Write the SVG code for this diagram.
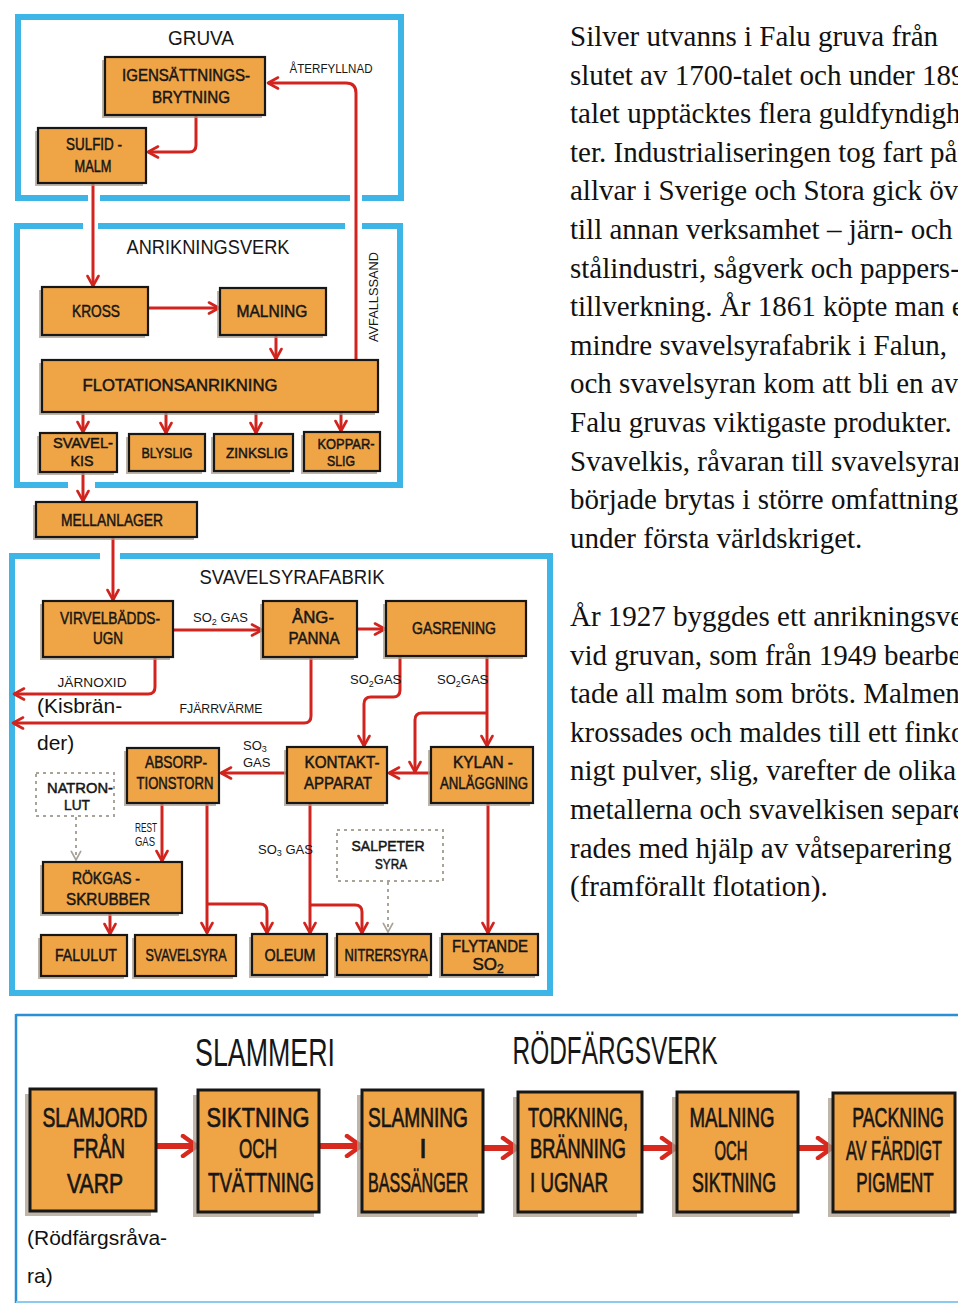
<svg xmlns="http://www.w3.org/2000/svg" width="958" height="1305" viewBox="0 0 958 1305">
<defs>
<marker id="ah" viewBox="0 0 14 14" refX="12" refY="7" markerWidth="14" markerHeight="14" markerUnits="userSpaceOnUse" orient="auto">
<path d="M2,1.5 L12,7 L2,12.5" fill="none" stroke="#D2241E" stroke-width="2.6" stroke-linecap="round" stroke-linejoin="round"/>
</marker>
<marker id="ahg" viewBox="0 0 14 14" refX="12" refY="7" markerWidth="12" markerHeight="12" markerUnits="userSpaceOnUse" orient="auto">
<path d="M2,1.5 L12,7 L2,12.5" fill="none" stroke="#A9A398" stroke-width="2" stroke-linecap="round"/>
</marker>
<marker id="ahb" viewBox="0 0 20 24" refX="17" refY="12" markerWidth="20" markerHeight="24" markerUnits="userSpaceOnUse" orient="auto">
<path d="M3,2 L17,12 L3,22" fill="none" stroke="#D8291F" stroke-width="4.5" stroke-linecap="round" stroke-linejoin="round"/>
</marker>
</defs>
<style>
.box{fill:#EFA446;stroke:#171717;stroke-width:2.2}
.bbox{fill:#EFA446;stroke:#171717;stroke-width:3}
.sh{fill:#A99C8C;opacity:.75}
.dbox{fill:none;stroke:#A9A398;stroke-width:2;stroke-dasharray:3 4}
.bt{font-family:"Liberation Sans",Arial,sans-serif;font-size:17px;fill:#161616;stroke:#161616;stroke-width:.5;text-anchor:middle}
.sm{font-size:15px}
.bg{font-size:27px;stroke-width:.7}
.st{text-anchor:start}
.ti{font-family:"Liberation Sans",Arial,sans-serif;font-size:21px;fill:#161616;text-anchor:middle}
.big{font-size:38px}
.lb{font-family:"Liberation Sans",Arial,sans-serif;font-size:13px;fill:#161616}
.frame{fill:none;stroke:#3DB6E7;stroke-width:6}
.con{fill:none;stroke:#D2241E;stroke-width:3;marker-end:url(#ah);stroke-linejoin:round}
.dash{fill:none;stroke:#A9A398;stroke-width:2;stroke-dasharray:3 4;marker-end:url(#ahg)}
.thick{fill:none;stroke:#D8291F;stroke-width:6;marker-end:url(#ahb)}
.body{font-family:"Liberation Serif","Times New Roman",serif;font-size:29px;fill:#111}
.note{font-family:"Liberation Sans",Arial,sans-serif;font-size:21px;fill:#111}
</style>
<rect width="958" height="1305" fill="#ffffff"/>

<!-- frames -->
<g id="frames">
<path class="frame" d="M15,17 H404 M18,14 V201 M401,14 V201 M15,198 H88 M100,198 H350 M362,198 H404"/>
<path class="frame" d="M14,226 H83 M98,226 H345 M362,226 H403 M17,223 V488 M400,223 V488 M14,485 H68 M95,485 H403"/>
<path class="frame" d="M9,556 H100 M120,556 H553 M12,553 V996 M550,553 V996 M9,993 H553"/>
<path d="M16,1015 H958 M16,1014 V1303" fill="none" stroke="#2A90D6" stroke-width="2.5"/>
<path d="M16,1302 H958" fill="none" stroke="#8CCBEF" stroke-width="2"/>
</g>

<!-- titles -->
<g id="titles">
<text class="ti" x="201" y="45" textLength="66" lengthAdjust="spacingAndGlyphs">GRUVA</text>
<text class="ti" x="208" y="254" textLength="163" lengthAdjust="spacingAndGlyphs">ANRIKNINGSVERK</text>
<text class="ti" x="292" y="584" textLength="185" lengthAdjust="spacingAndGlyphs">SVAVELSYRAFABRIK</text>
<text class="ti big" x="265" y="1066" textLength="140" lengthAdjust="spacingAndGlyphs">SLAMMERI</text>
<text class="ti big" x="615" y="1064" textLength="205" lengthAdjust="spacingAndGlyphs">RÖDFÄRGSVERK</text>
</g>

<!-- connectors -->
<g id="connectors">
<path class="con" d="M356,360 V93 Q356,83 346,83 H268"/>
<path class="con" d="M196,116 V145 Q196,152 189,152 H148"/>
<path class="con" d="M93,184 V286"/>
<path class="con" d="M148,308 H219"/>
<path class="con" d="M276,335 V359"/>
<path class="con" d="M83,412 V432"/>
<path class="con" d="M166,412 V433"/>
<path class="con" d="M256,412 V433"/>
<path class="con" d="M341,412 V431"/>
<path class="con" d="M83,472 V501"/>
<path class="con" d="M113,537 V600"/>
<path class="con" d="M173,630 H262"/>
<path class="con" d="M357,629 H385"/>
<path class="con" d="M155,657 V687 Q155,694 148,694 H14"/>
<path class="con" d="M311,657 V716 Q311,723 304,723 H13"/>
<path class="con" d="M400,656 V690 Q400,697 393,697 H371 Q364,697 364,704 V746"/>
<path class="con" d="M487,656 V746"/>
<path class="con" d="M487,713 H422 Q415,713 415,720 V772"/>
<path class="con" d="M431,773 H389"/>
<path class="con" d="M287,773 H221"/>
<path class="con" d="M162,803 V861"/>
<path class="con" d="M207,803 V933"/>
<path class="con" d="M207,904 H260 Q267,904 267,911 V933"/>
<path class="con" d="M310,803 V933"/>
<path class="con" d="M310,905 H355 Q362,905 362,912 V933"/>
<path class="con" d="M488,803 V933"/>
<path class="con" d="M110,913 V934"/>
<path class="dash" d="M76,817 V860"/>
<path class="dash" d="M388,882 V932"/>
<path class="thick" d="M157,1146 H197"/>
<path class="thick" d="M320,1146 H361"/>
<path class="thick" d="M484,1148 H517"/>
<path class="thick" d="M643,1148 H676"/>
<path class="thick" d="M799,1148 H832"/>
</g>

<!-- connector labels -->
<g id="labels">
<text class="lb" x="331" y="73" text-anchor="middle" textLength="83" lengthAdjust="spacingAndGlyphs">ÅTERFYLLNAD</text>
<text class="lb" transform="translate(378,297) rotate(-90)" text-anchor="middle" textLength="90" lengthAdjust="spacingAndGlyphs">AVFALLSSAND</text>
<text class="lb" x="193" y="622">SO<tspan font-size="9" dy="3">2</tspan><tspan dy="-3"> GAS</tspan></text>
<text class="lb" x="92" y="687" text-anchor="middle" textLength="69" lengthAdjust="spacingAndGlyphs">JÄRNOXID</text>
<text class="lb" x="221" y="713" text-anchor="middle" textLength="83" lengthAdjust="spacingAndGlyphs">FJÄRRVÄRME</text>
<text class="lb" x="350" y="684" font-size="11.5">SO<tspan font-size="9" dy="3">2</tspan><tspan dy="-3">GAS</tspan></text>
<text class="lb" x="437" y="684" font-size="11.5">SO<tspan font-size="9" dy="3">2</tspan><tspan dy="-3">GAS</tspan></text>
<text class="lb" x="243" y="750" font-size="12">SO<tspan font-size="9" dy="2">3</tspan></text>
<text class="lb" x="243" y="767" font-size="12">GAS</text>
<text class="lb" x="135" y="832" font-size="11" textLength="22" lengthAdjust="spacingAndGlyphs">REST</text>
<text class="lb" x="135" y="846" font-size="11" textLength="20" lengthAdjust="spacingAndGlyphs">GAS</text>
<text class="lb" x="258" y="854" font-size="11.5">SO<tspan font-size="9" dy="2">3</tspan><tspan dy="-2"> GAS</tspan></text>
</g>

<!-- nodes -->
<g id="n-igensattning">
<rect class="sh" x="102" y="60" width="160" height="58"/>
<rect class="box" x="105" y="57" width="160" height="58"/>
<text class="bt" x="186" y="81" textLength="128" lengthAdjust="spacingAndGlyphs">IGENSÄTTNINGS-</text>
<text class="bt" x="191" y="103" textLength="78" lengthAdjust="spacingAndGlyphs">BRYTNING</text>
</g>
<g id="n-sulfidmalm">
<rect class="sh" x="35" y="131" width="108" height="55"/>
<rect class="box" x="38" y="128" width="108" height="55"/>
<text class="bt" x="94" y="150" textLength="56" lengthAdjust="spacingAndGlyphs">SULFID -</text>
<text class="bt" x="93" y="172" textLength="37" lengthAdjust="spacingAndGlyphs">MALM</text>
</g>
<g id="n-kross">
<rect class="sh" x="39" y="290" width="106" height="48"/>
<rect class="box" x="42" y="287" width="106" height="48"/>
<text class="bt" x="96" y="317" textLength="48" lengthAdjust="spacingAndGlyphs">KROSS</text>
</g>
<g id="n-malning">
<rect class="sh" x="217" y="291" width="106" height="47"/>
<rect class="box" x="220" y="288" width="106" height="47"/>
<text class="bt" x="272" y="317" textLength="71" lengthAdjust="spacingAndGlyphs">MALNING</text>
</g>
<g id="n-flotation">
<rect class="sh" x="39" y="363" width="336" height="52"/>
<rect class="box" x="42" y="360" width="336" height="52"/>
<text class="bt" x="180" y="391" textLength="195" lengthAdjust="spacingAndGlyphs">FLOTATIONSANRIKNING</text>
</g>
<g id="n-svavelkis">
<rect class="sh" x="37" y="436" width="77" height="39"/>
<rect class="box" x="40" y="433" width="77" height="39"/>
<text class="bt sm" x="83" y="448" textLength="60" lengthAdjust="spacingAndGlyphs">SVAVEL-</text>
<text class="bt sm" x="82" y="466" textLength="23" lengthAdjust="spacingAndGlyphs">KIS</text>
</g>
<g id="n-blyslig">
<rect class="sh" x="126" y="437" width="76" height="37"/>
<rect class="box" x="129" y="434" width="76" height="37"/>
<text class="bt sm" x="167" y="458" textLength="51" lengthAdjust="spacingAndGlyphs">BLYSLIG</text>
</g>
<g id="n-zinkslig">
<rect class="sh" x="211" y="437" width="79" height="37"/>
<rect class="box" x="214" y="434" width="79" height="37"/>
<text class="bt sm" x="257" y="458" textLength="62" lengthAdjust="spacingAndGlyphs">ZINKSLIG</text>
</g>
<g id="n-kopparslig">
<rect class="sh" x="301" y="435" width="76" height="39"/>
<rect class="box" x="304" y="432" width="76" height="39"/>
<text class="bt sm" x="346" y="449" textLength="57" lengthAdjust="spacingAndGlyphs">KOPPAR-</text>
<text class="bt sm" x="341" y="466" textLength="28" lengthAdjust="spacingAndGlyphs">SLIG</text>
</g>
<g id="n-mellanlager">
<rect class="sh" x="33" y="505" width="161" height="35"/>
<rect class="box" x="36" y="502" width="161" height="35"/>
<text class="bt" x="112" y="526" font-size="16" textLength="102" lengthAdjust="spacingAndGlyphs">MELLANLAGER</text>
</g>
<g id="n-virvelbadds">
<rect class="sh" x="40" y="604" width="130" height="56"/>
<rect class="box" x="43" y="601" width="130" height="56"/>
<text class="bt" x="110" y="624" textLength="100" lengthAdjust="spacingAndGlyphs">VIRVELBÄDDS-</text>
<text class="bt" x="108" y="644" textLength="30" lengthAdjust="spacingAndGlyphs">UGN</text>
</g>
<g id="n-angpanna">
<rect class="sh" x="260" y="604" width="94" height="56"/>
<rect class="box" x="263" y="601" width="94" height="56"/>
<text class="bt" x="313" y="623" textLength="42" lengthAdjust="spacingAndGlyphs">ÅNG-</text>
<text class="bt" x="314" y="644" textLength="51" lengthAdjust="spacingAndGlyphs">PANNA</text>
</g>
<g id="n-gasrening">
<rect class="sh" x="383" y="604" width="140" height="55"/>
<rect class="box" x="386" y="601" width="140" height="55"/>
<text class="bt" x="454" y="634" textLength="84" lengthAdjust="spacingAndGlyphs">GASRENING</text>
</g>
<g id="n-absorption">
<rect class="sh" x="124" y="751" width="92" height="55"/>
<rect class="box" x="127" y="748" width="92" height="55"/>
<text class="bt" x="176" y="768" textLength="62" lengthAdjust="spacingAndGlyphs">ABSORP-</text>
<text class="bt" x="175" y="789" textLength="77" lengthAdjust="spacingAndGlyphs">TIONSTORN</text>
</g>
<g id="n-kontakt">
<rect class="sh" x="284" y="750" width="100" height="56"/>
<rect class="box" x="287" y="747" width="100" height="56"/>
<text class="bt" x="342" y="768" textLength="75" lengthAdjust="spacingAndGlyphs">KONTAKT-</text>
<text class="bt" x="338" y="789" textLength="68" lengthAdjust="spacingAndGlyphs">APPARAT</text>
</g>
<g id="n-kylan">
<rect class="sh" x="428" y="750" width="102" height="56"/>
<rect class="box" x="431" y="747" width="102" height="56"/>
<text class="bt" x="483" y="768" textLength="60" lengthAdjust="spacingAndGlyphs">KYLAN -</text>
<text class="bt" x="484" y="789" textLength="88" lengthAdjust="spacingAndGlyphs">ANLÄGGNING</text>
</g>
<g id="n-natronlut">
<rect class="dbox" x="36" y="773" width="78" height="43"/>
<text class="bt sm" x="80" y="793" textLength="66" lengthAdjust="spacingAndGlyphs">NATRON-</text>
<text class="bt sm" x="77" y="810" textLength="26" lengthAdjust="spacingAndGlyphs">LUT</text>
</g>
<g id="n-rokgas">
<rect class="sh" x="40" y="865" width="139" height="51"/>
<rect class="box" x="43" y="862" width="139" height="51"/>
<text class="bt" x="106" y="884" textLength="68" lengthAdjust="spacingAndGlyphs">RÖKGAS -</text>
<text class="bt" x="108" y="905" textLength="84" lengthAdjust="spacingAndGlyphs">SKRUBBER</text>
</g>
<g id="n-salpeter">
<rect class="dbox" x="337" y="830" width="106" height="51"/>
<text class="bt sm" x="388" y="851" textLength="73" lengthAdjust="spacingAndGlyphs">SALPETER</text>
<text class="bt sm" x="391" y="869" textLength="32" lengthAdjust="spacingAndGlyphs">SYRA</text>
</g>
<g id="n-falulut">
<rect class="sh" x="38" y="938" width="86" height="41"/>
<rect class="box" x="41" y="935" width="86" height="41"/>
<text class="bt" x="86" y="961" textLength="62" lengthAdjust="spacingAndGlyphs">FALULUT</text>
</g>
<g id="n-svavelsyra">
<rect class="sh" x="132" y="938" width="101" height="41"/>
<rect class="box" x="135" y="935" width="101" height="41"/>
<text class="bt" x="186" y="961" textLength="81" lengthAdjust="spacingAndGlyphs">SVAVELSYRA</text>
</g>
<g id="n-oleum">
<rect class="sh" x="249" y="937" width="75" height="41"/>
<rect class="box" x="252" y="934" width="75" height="41"/>
<text class="bt" x="290" y="961" textLength="51" lengthAdjust="spacingAndGlyphs">OLEUM</text>
</g>
<g id="n-nitrersyra">
<rect class="sh" x="334" y="937" width="94" height="41"/>
<rect class="box" x="337" y="934" width="94" height="41"/>
<text class="bt" x="386" y="961" textLength="83" lengthAdjust="spacingAndGlyphs">NITRERSYRA</text>
</g>
<g id="n-flytande">
<rect class="sh" x="439" y="937" width="96" height="41"/>
<rect class="box" x="442" y="934" width="96" height="41"/>
<text class="bt" x="490" y="952" textLength="76" lengthAdjust="spacingAndGlyphs">FLYTANDE</text>
<text class="bt" x="488" y="970">SO<tspan font-size="12" dy="3">2</tspan></text>
</g>

<g id="n-slamjord">
<rect class="sh" x="25" y="1094" width="126" height="122"/>
<rect class="bbox" x="30" y="1089" width="126" height="122"/>
<text class="bt bg" x="95" y="1127" textLength="105" lengthAdjust="spacingAndGlyphs">SLAMJORD</text>
<text class="bt bg" x="99" y="1158" textLength="52" lengthAdjust="spacingAndGlyphs">FRÅN</text>
<text class="bt bg" x="95" y="1193" textLength="56" lengthAdjust="spacingAndGlyphs">VARP</text>
</g>
<g id="n-siktning">
<rect class="sh" x="193" y="1095" width="121" height="122"/>
<rect class="bbox" x="198" y="1090" width="121" height="122"/>
<text class="bt bg" x="258" y="1127" textLength="103" lengthAdjust="spacingAndGlyphs">SIKTNING</text>
<text class="bt bg" x="258" y="1158" textLength="38" lengthAdjust="spacingAndGlyphs">OCH</text>
<text class="bt bg" x="261" y="1192" textLength="106" lengthAdjust="spacingAndGlyphs">TVÄTTNING</text>
</g>
<g id="n-slamning">
<rect class="sh" x="357" y="1095" width="121" height="122"/>
<rect class="bbox" x="362" y="1090" width="121" height="122"/>
<text class="bt bg" x="418" y="1127" textLength="100" lengthAdjust="spacingAndGlyphs">SLAMNING</text>
<text class="bt bg" x="423" y="1158">I</text>
<text class="bt bg" x="418" y="1192" textLength="100" lengthAdjust="spacingAndGlyphs">BASSÄNGER</text>
</g>
<g id="n-torkning">
<rect class="sh" x="513" y="1097" width="124" height="120"/>
<rect class="bbox" x="518" y="1092" width="124" height="120"/>
<text class="bt bg st" x="528" y="1127" textLength="100" lengthAdjust="spacingAndGlyphs">TORKNING,</text>
<text class="bt bg st" x="530" y="1158" textLength="96" lengthAdjust="spacingAndGlyphs">BRÄNNING</text>
<text class="bt bg st" x="530" y="1192" textLength="78" lengthAdjust="spacingAndGlyphs">I UGNAR</text>
</g>
<g id="n-malning2">
<rect class="sh" x="672" y="1097" width="121" height="120"/>
<rect class="bbox" x="677" y="1092" width="121" height="120"/>
<text class="bt bg" x="732" y="1127" textLength="85" lengthAdjust="spacingAndGlyphs">MALNING</text>
<text class="bt bg" x="731" y="1160" textLength="33" lengthAdjust="spacingAndGlyphs">OCH</text>
<text class="bt bg" x="734" y="1192" textLength="84" lengthAdjust="spacingAndGlyphs">SIKTNING</text>
</g>
<g id="n-packning">
<rect class="sh" x="828" y="1098" width="122" height="119"/>
<rect class="bbox" x="833" y="1093" width="122" height="119"/>
<text class="bt bg" transform="translate(898,1127) scale(0.66,1)" x="0" y="0">PACKNING</text>
<text class="bt bg" transform="translate(894,1160) scale(0.6,1)" x="0" y="0">AV FÄRDIGT</text>
<text class="bt bg" transform="translate(895,1192) scale(0.63,1)" x="0" y="0">PIGMENT</text>
</g>

<!-- notes -->
<g id="notes">
<text class="note" x="37" y="713">(Kisbrän-</text>
<text class="note" x="37" y="750">der)</text>
<text class="note" x="27" y="1245">(Rödfärgsråva-</text>
<text class="note" x="27" y="1283">ra)</text>
</g>

<!-- body text -->
<g id="bodytext" class="body">
<text x="570" y="46">Silver utvanns i Falu gruva från</text>
<text x="570" y="84.6">slutet av 1700-talet och under 1890-</text>
<text x="570" y="123.2">talet upptäcktes flera guldfyndighe-</text>
<text x="570" y="161.8">ter. Industrialiseringen tog fart på</text>
<text x="570" y="200.4">allvar i Sverige och Stora gick över</text>
<text x="570" y="239">till annan verksamhet – järn- och</text>
<text x="570" y="277.6">stålindustri, sågverk och pappers-</text>
<text x="570" y="316.2">tillverkning. År 1861 köpte man en</text>
<text x="570" y="354.8">mindre svavelsyrafabrik i Falun,</text>
<text x="570" y="393.4">och svavelsyran kom att bli en av</text>
<text x="570" y="432">Falu gruvas viktigaste produkter.</text>
<text x="570" y="470.6">Svavelkis, råvaran till svavelsyran,</text>
<text x="570" y="509.2">började brytas i större omfattning</text>
<text x="570" y="547.8">under första världskriget.</text>
<text x="570" y="626">År 1927 byggdes ett anrikningsverk</text>
<text x="570" y="664.6">vid gruvan, som från 1949 bearbe-</text>
<text x="570" y="703.2">tade all malm som bröts. Malmen</text>
<text x="570" y="741.8">krossades och maldes till ett finkor-</text>
<text x="570" y="780.4">nigt pulver, slig, varefter de olika</text>
<text x="570" y="819">metallerna och svavelkisen separe-</text>
<text x="570" y="857.6">rades med hjälp av våtseparering</text>
<text x="570" y="896.2">(framförallt flotation).</text>
</g>
</svg>
